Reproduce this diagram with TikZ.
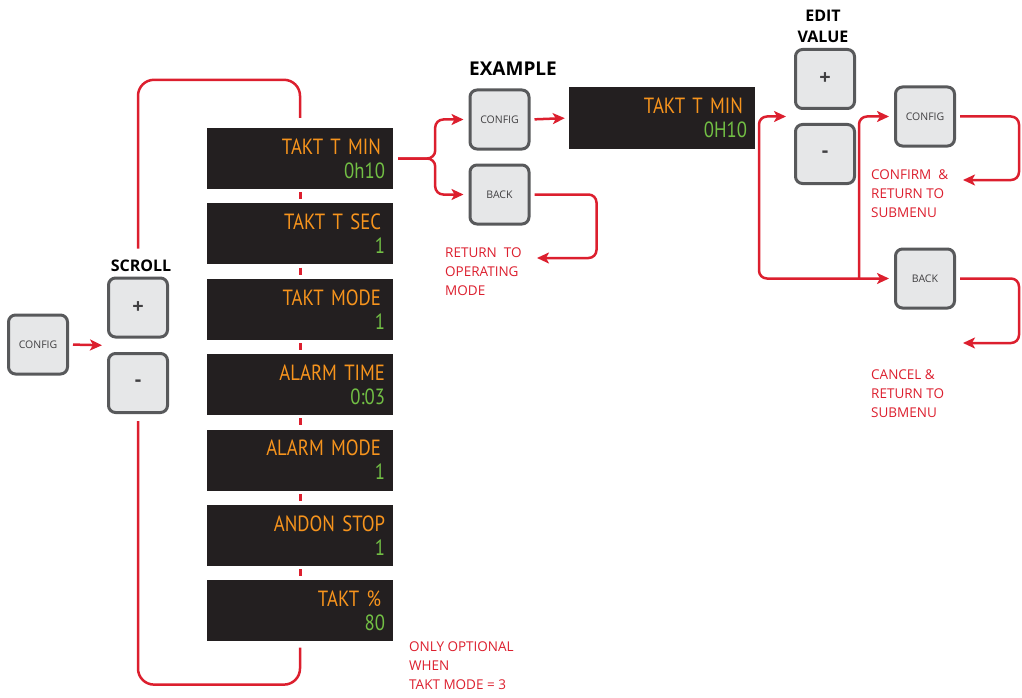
\documentclass[tikz,border=0pt]{standalone}
\usepackage{fontspec}
\setmainfont{Open Sans}
\newfontfamily\lcdfont[FakeStretch=0.85,WordSpace=0.5]{PT Sans}
\usetikzlibrary{calc}
\usetikzlibrary{positioning}
\usetikzlibrary{arrows.meta}
\definecolor{flowred}{HTML}{DC1F2E}
\definecolor{lcdorange}{HTML}{F7941D}
\definecolor{lcdgreen}{HTML}{72BF44}
\definecolor{lcdblack}{HTML}{231F20}
\definecolor{keygray}{HTML}{58595B}
\definecolor{keyfill}{HTML}{E6E7E8}
\definecolor{keytext}{HTML}{414042}
\begin{document}
\begin{tikzpicture}[x=1pt,y=-1pt,>={Stealth[length=12pt,width=11pt,inset=3pt]},
	  key node/.style={draw=keygray,line width=3pt,fill=keyfill,rounded corners=7pt,minimum size=59pt,inner sep=0pt,text=keytext,font=\fontsize{10.5}{12}\selectfont},
	  sign node/.style={key node,font=\bfseries\fontsize{20}{22}\selectfont},
	  lcd node/.style={fill=lcdblack,minimum width=186pt,minimum height=61pt,text width=170pt,inner sep=8pt,align=right,font=\lcdfont\fontsize{22}{24}\selectfont},
	  head label/.style={font=\bfseries\fontsize{16}{21}\selectfont,align=center},
	  note label/.style={text=flowred,align=left,anchor=north west,inner sep=0pt,font=\fontsize{13.5}{19}\selectfont},
	  flow/.style={draw=flowred,line width=2.5pt,rounded corners=8pt},
	  tick/.style={draw=flowred,line width=3pt,shorten <=3pt,shorten >=4pt}]

	 \useasboundingbox (0,0) rectangle (1022,698);

	 % scroll through the submenu
	 \node[key node] (config) at (38,344.5) {CONFIG};
	 \node[sign node] (plus) at (138,307.5) {+};
	 \node[sign node] (minus) at (138,383) {-};
	 \node[head label] (scroll) at (141,266) {SCROLL};
	 \coordinate (scrollin) at ($ (plus.south west)!0.5!(minus.north west) + (-5,0) $);

	 \node[lcd node] (tmin) at (300,158.5) {\textcolor{lcdorange}{TAKT T MIN\hspace*{4pt}}\\\textcolor{lcdgreen}{0h10}};
	 \node[lcd node, below=14pt of tmin] (tsec) {\textcolor{lcdorange}{TAKT T SEC\hspace*{4pt}}\\\textcolor{lcdgreen}{1}};
	 \node[lcd node, below=14pt of tsec] (tmode) {\textcolor{lcdorange}{TAKT MODE\hspace*{4pt}}\\\textcolor{lcdgreen}{1}};
	 \node[lcd node, below=14pt of tmode] (atime) {\textcolor{lcdorange}{ALARM TIME}\\\textcolor{lcdgreen}{0:03}};
	 \node[lcd node, below=14pt of atime] (amode) {\textcolor{lcdorange}{ALARM MODE\hspace*{4pt}}\\\textcolor{lcdgreen}{1}};
	 \node[lcd node, below=14pt of amode] (astop) {\textcolor{lcdorange}{ANDON STOP}\\\textcolor{lcdgreen}{1}};
	 \node[lcd node, below=14pt of astop] (tpct) {\textcolor{lcdorange}{TAKT \%\hspace*{4pt}}\\\textcolor{lcdgreen}{80}};
	 \node[note label] (optional) at (409,642) {ONLY OPTIONAL\\WHEN\\TAKT MODE = 3};

	 \draw[flow,->,shorten <=4pt] (config.east) -- (scrollin);
	 \draw[flow,rounded corners=16pt,shorten <=8pt,shorten >=10pt] (plus.north |- scroll.north) |- ($ (tmin.north) + (0,-48) $) -- (tmin.north);
	 \draw[flow,rounded corners=16pt,shorten <=7pt,shorten >=6pt] (minus.south) |- ($ (tpct.south) + (0,43) $) -- (tpct.south);
	 \draw[tick] (tmin.south) -- (tsec.north);
	 \draw[tick] (tsec.south) -- (tmode.north);
	 \draw[tick] (tmode.south) -- (atime.north);
	 \draw[tick] (atime.south) -- (amode.north);
	 \draw[tick] (amode.south) -- (astop.north);
	 \draw[tick] (astop.south) -- (tpct.north);

	 % example
	 \node[head label,font=\bfseries\fontsize{19}{21}\selectfont] (example) at (513,68.5) {EXAMPLE};
	 \node[key node] (config2) at (499.5,119.5) {CONFIG};
	 \node[key node] (back2) at (499.5,194.5) {BACK};
	 \node[lcd node] (tmin2) at (662,118) {\textcolor{lcdorange}{TAKT T MIN\hspace*{4pt}}\\\textcolor{lcdgreen}{0H10}};
	 \node[note label] (operating) at (445,248) {RETURN\ \ TO\\OPERATING\\MODE};
	 \coordinate (retpt) at (537,258);

	 \draw[flow,->,shorten <=5pt,shorten >=5pt] (tmin.east) -- ++(42,0) |- (config2.west);
	 \draw[flow,->,shorten <=5pt,shorten >=5pt] (tmin.east) -- ++(42,0) |- (back2.west);
	 \draw[flow,->,shorten <=4pt,shorten >=4pt] (config2.east) -- (tmin2.west);
	 \draw[flow,->,shorten <=4pt] (back2.east) -- ++(66,0) |- (retpt);

	 % edit value
	 \node[head label] (edit) at (823,26.5) {EDIT\\VALUE};
	 \node[sign node] (plus2) at (825,79) {+};
	 \node[sign node] (minus2) at (825,154) {-};
	 \node[key node] (config3) at (925,116.5) {CONFIG};
	 \node[key node] (back3) at (925,278.5) {BACK};
	 \node[note label] (confirm) at (871,170) {CONFIRM\ \ \&\\RETURN TO\\SUBMENU};
	 \node[note label] (cancel) at (871,370) {CANCEL \&\\RETURN TO\\SUBMENU};
	 \coordinate (editin) at ($ (plus2.south west)!0.5!(minus2.north west) + (-8,0) $);
	 \coordinate (split) at ($ (back3.west) + (-35,0) $);
	 \coordinate (okpt) at (963,180);
	 \coordinate (cancelpt) at (963,343);

	 \draw[flow,<->,shorten >=5pt] (editin) -- ++(-27,0) |- (back3.west);
	 \draw[flow,->,shorten >=5pt] (split) |- (config3.west);
	 \draw[flow,->,shorten <=4pt] (config3.east) -- ++(63,0) |- (okpt);
	 \draw[flow,->,shorten <=4pt] (back3.east) -- ++(63,0) |- (cancelpt);
	\end{tikzpicture}
\end{document}
